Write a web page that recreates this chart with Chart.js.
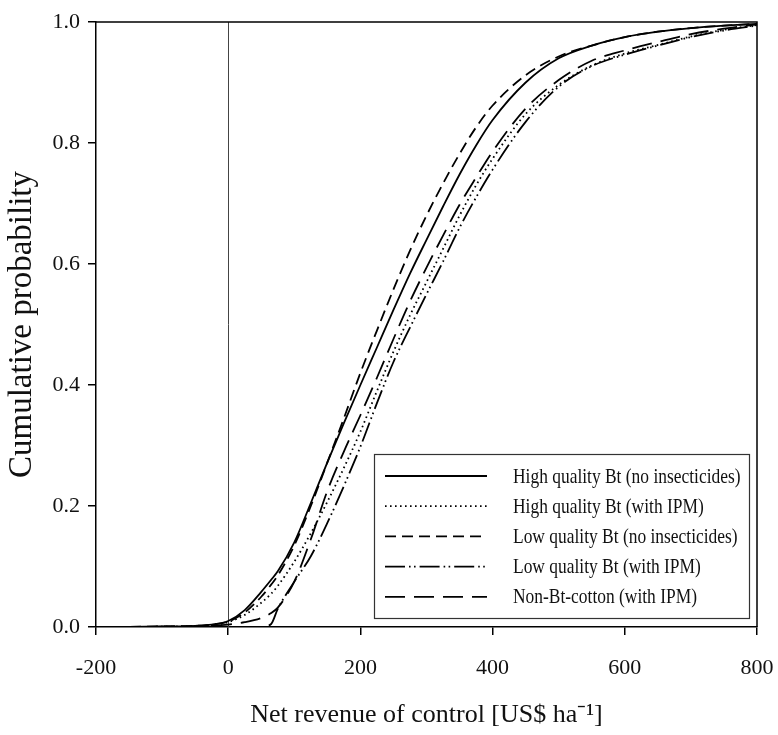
<!DOCTYPE html>
<html>
<head>
<meta charset="utf-8">
<script src="https://cdn.jsdelivr.net/npm/chart.js@4.4.1/dist/chart.umd.min.js"></script>
<style>
  html, body { margin: 0; padding: 0; background: #fff; }
  #wrap { width: 778px; height: 735px; }
</style>
</head>
<body>
<div id="wrap"><canvas id="c" width="778" height="735"></canvas></div>
<script>
// Net revenue of control (US$ per ha) at which each cumulative probability is read
const revenue = [-200, -150, -100, -50, -25, 0, 25, 50, 65, 75, 100, 125, 150, 175, 200, 225, 250, 275, 300, 325, 350, 375, 400, 450, 500, 550, 600, 650, 700, 750, 800];

const highBtNoInsecticides = [0, 0.0003, 0.001, 0.002, 0.004, 0.010, 0.028, 0.058, 0.078, 0.092, 0.140, 0.205, 0.272, 0.337, 0.400, 0.462, 0.524, 0.584, 0.640, 0.695, 0.748, 0.796, 0.838, 0.900, 0.940, 0.961, 0.975, 0.984, 0.990, 0.994, 0.997];
const highBtWithIPM        = [0, 0.0002, 0.0005, 0.0015, 0.003, 0.008, 0.020, 0.040, 0.055, 0.068, 0.108, 0.155, 0.207, 0.263, 0.323, 0.390, 0.455, 0.515, 0.570, 0.625, 0.680, 0.730, 0.774, 0.848, 0.896, 0.928, 0.948, 0.962, 0.976, 0.987, 0.995];
const lowBtNoInsecticides  = [0, 0.0003, 0.001, 0.002, 0.004, 0.009, 0.024, 0.050, 0.070, 0.085, 0.135, 0.200, 0.272, 0.345, 0.420, 0.490, 0.558, 0.622, 0.680, 0.733, 0.782, 0.826, 0.862, 0.912, 0.943, 0.961, 0.975, 0.984, 0.990, 0.994, 0.997];
const lowBtWithIPM         = [0, 0, 0, 0, 0, 0, 0, 0, 0.005, 0.030, 0.075, 0.117, 0.172, 0.233, 0.298, 0.370, 0.438, 0.495, 0.550, 0.604, 0.660, 0.710, 0.756, 0.835, 0.893, 0.927, 0.946, 0.961, 0.975, 0.986, 0.994];
const nonBtWithIPM         = [0, 0, 0.0005, 0.001, 0.002, 0.004, 0.008, 0.015, 0.023, 0.032, 0.075, 0.145, 0.225, 0.290, 0.350, 0.412, 0.476, 0.538, 0.594, 0.647, 0.698, 0.743, 0.786, 0.857, 0.904, 0.936, 0.953, 0.967, 0.980, 0.989, 0.996];

const seriesLabels = [
  'High quality Bt (no insecticides)',
  'High quality Bt (with IPM)',
  'Low quality Bt (no insecticides)',
  'Low quality Bt (with IPM)',
  'Non-Bt-cotton (with IPM)'
];

const xTicks = [-200, 0, 200, 400, 600, 800];
const yTicks = [0, 0.2, 0.4, 0.6, 0.8, 1.0];

const SERIF = '"Liberation Serif", "Times New Roman", serif';

const toPoints = (ys) => revenue.map((x, i) => ({ x, y: ys[i] }));

const lineStyles = [
  { borderDash: [] },
  { borderDash: [1.6, 3.4] },
  { borderDash: [11, 6] },
  { borderDash: [20, 4, 1.6, 3.4, 1.6, 4] },
  { borderDash: [20, 9] }
];

const seriesValues = [highBtNoInsecticides, highBtWithIPM, lowBtNoInsecticides, lowBtWithIPM, nonBtWithIPM];

const datasets = seriesValues.map((vals, i) => ({
  label: seriesLabels[i],
  data: toPoints(vals),
  borderColor: '#000',
  borderWidth: 1.8,
  borderDash: lineStyles[i].borderDash,
  pointRadius: 0,
  fill: false,
  cubicInterpolationMode: 'monotone'
}));

// Thin vertical reference line at zero revenue
const zeroLine = {
  id: 'zeroLine',
  beforeDatasetsDraw(chart) {
    const { ctx, chartArea, scales } = chart;
    const x = Math.round(scales.x.getPixelForValue(0)) + 0.5;
    ctx.save();
    ctx.strokeStyle = '#444';
    ctx.lineWidth = 1;
    ctx.beginPath();
    ctx.moveTo(x, chartArea.top);
    ctx.lineTo(x, chartArea.bottom);
    ctx.stroke();
    ctx.restore();
  }
};

// Closes the plot frame on the top and right
const frame = {
  id: 'frame',
  afterDraw(chart) {
    const { ctx, chartArea } = chart;
    ctx.save();
    ctx.strokeStyle = '#000';
    ctx.lineWidth = 1.5;
    ctx.beginPath();
    ctx.moveTo(chartArea.left, chartArea.top);
    ctx.lineTo(chartArea.right, chartArea.top);
    ctx.lineTo(chartArea.right, chartArea.bottom);
    ctx.stroke();
    ctx.restore();
  }
};

// Boxed legend in the lower right corner of the plot
const insetLegend = {
  id: 'insetLegend',
  afterDatasetsDraw(chart) {
    const { ctx, chartArea } = chart;
    const w = 375, h = 164;
    const x0 = chartArea.right - 8 - w;
    const y0 = chartArea.bottom - 9 - h;
    ctx.save();
    ctx.fillStyle = '#fff';
    ctx.fillRect(x0, y0, w, h);
    ctx.strokeStyle = '#333';
    ctx.lineWidth = 1.2;
    ctx.strokeRect(x0 + 0.5, y0 + 0.5, w, h);
    chart.data.datasets.forEach((ds, i) => {
      const y = y0 + 22 + i * 30.2;
      ctx.beginPath();
      ctx.setLineDash(ds.borderDash || []);
      ctx.lineWidth = ds.borderWidth;
      ctx.strokeStyle = ds.borderColor;
      ctx.moveTo(x0 + 11, y);
      ctx.lineTo(x0 + 113, y);
      ctx.stroke();
      ctx.setLineDash([]);
      ctx.save();
      ctx.translate(x0 + 139, y);
      ctx.scale(0.83, 1);
      ctx.font = '21px ' + SERIF;
      ctx.fillStyle = '#111';
      ctx.textBaseline = 'middle';
      ctx.textAlign = 'left';
      ctx.fillText(ds.label, 0, 1);
      ctx.restore();
    });
    ctx.restore();
  }
};

new Chart(document.getElementById('c'), {
  type: 'line',
  data: { datasets },
  plugins: [zeroLine, insetLegend, frame],
  options: {
    responsive: false,
    animation: false,
    layout: { padding: { top: 22, right: 21, left: 0, bottom: 0 } },
    plugins: { legend: { display: false }, tooltip: { enabled: false } },
    scales: {
      x: {
        type: 'linear',
        min: xTicks[0],
        max: xTicks[xTicks.length - 1],
        afterBuildTicks(scale) { scale.ticks = xTicks.map(v => ({ value: v })); },
        ticks: {
          font: { family: SERIF, size: 22 },
          color: '#111',
          padding: 20,
          maxRotation: 0,
          callback: (v) => String(v)
        },
        grid: { drawOnChartArea: false, drawTicks: true, tickLength: 8, color: '#000', lineWidth: 1.5 },
        border: { display: true, color: '#000', width: 1.5 },
        title: {
          display: true,
          text: 'Net revenue of control [US$ ha\u207B\u00B9]',
          font: { family: SERIF, size: 26 },
          color: '#111',
          padding: { top: 0, bottom: 4 }
        },
        afterFit(scale) {
          scale.height = 108;
          scale.paddingLeft = 0;
          scale.paddingRight = 0;
        }
      },
      y: {
        type: 'linear',
        min: yTicks[0],
        max: yTicks[yTicks.length - 1],
        afterBuildTicks(scale) { scale.ticks = yTicks.map(v => ({ value: v })); },
        ticks: {
          font: { family: SERIF, size: 22 },
          color: '#111',
          padding: 8,
          callback: (v) => Number(v).toFixed(1)
        },
        grid: { drawOnChartArea: false, drawTicks: true, tickLength: 8, color: '#000', lineWidth: 1.5 },
        border: { display: true, color: '#000', width: 1.5 },
        title: {
          display: true,
          text: 'Cumulative probability',
          font: { family: SERIF, size: 33 },
          color: '#111',
          padding: { top: 3, bottom: 0 }
        },
        afterFit(scale) {
          scale.width = 96;
          scale.paddingTop = 0;
          scale.paddingBottom = 0;
        }
      }
    }
  }
});
</script>
</body>
</html>
